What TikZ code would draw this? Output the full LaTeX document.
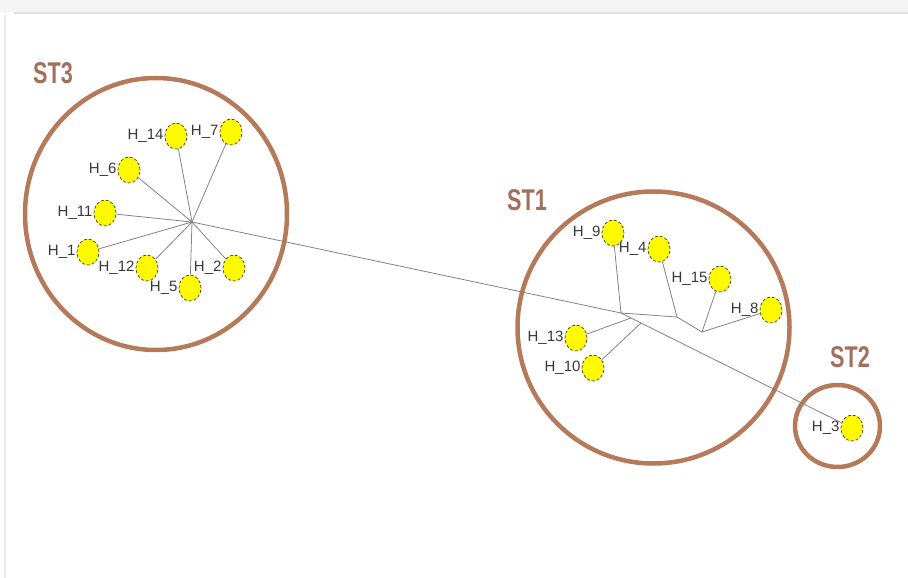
\documentclass[tikz,border=0pt]{standalone}
\usepackage{fontspec}
\setmainfont{Liberation Sans}
\usetikzlibrary{shapes.geometric}
\definecolor{ringc}{RGB}{180,122,90}
\definecolor{stlab}{RGB}{160,112,92}
\definecolor{edgec}{RGB}{130,130,130}
\definecolor{hapfill}{RGB}{255,250,0}
\definecolor{hapline}{RGB}{60,60,20}
\tikzset{
  hap/.style={ellipse, fill=hapfill, draw=hapline, line width=0.7pt, densely dashed,
    minimum width=22pt, minimum height=26pt, inner sep=0pt,
    label={[font=\fontsize{15}{17}\selectfont, text=black!78, inner sep=1pt, solid]left:#1}},
  ring/.style={draw=ringc, line width=4.5pt},
  stlabel/.style={font=\fontsize{30}{32}\selectfont\bfseries, text=stlab, xscale=0.72, inner sep=0pt},
  lnk/.style={draw=edgec, line width=0.8pt}
}
\begin{document}
\begin{tikzpicture}[x=1pt,y=-1pt]
\useasboundingbox (0,0) rectangle (908,578);
% faint frame
\fill[black!4] (0,0) rectangle (908,12);
\draw[black!12, line width=2pt] (14,13) -- (908,13);
\draw[black!8, line width=2pt] (5,15) -- (5,578);
% rings
\draw[ring] (156,214) ellipse [x radius=131, y radius=136];
\draw[ring] (653.5,327.5) circle [radius=136];
\draw[ring] (837.5,426) ellipse [x radius=42.5, y radius=41];
% ST labels
\node[stlabel] (st3) at (53,73) {ST3};
\node[stlabel] (st1) at (527,200) {ST1};
\node[stlabel] (st2) at (850,357) {ST2};
% junctions
\coordinate (hub3) at (192,222);
\coordinate (ja) at (621,313);
\coordinate (jb) at (631,318);
\coordinate (jc) at (641,323);
\coordinate (jd) at (677,317);
\coordinate (je) at (702,332);
% ST3 haplotypes
\node[hap=H\_14] (h14) at (176,136) {};
\node[hap=H\_7] (h7) at (231,132) {};
\node[hap=H\_6] (h6) at (129,170) {};
\node[hap=H\_11] (h11) at (105,213) {};
\node[hap=H\_1] (h1) at (88,252) {};
\node[hap=H\_12] (h12) at (147,268) {};
\node[hap=H\_5] (h5) at (190,288) {};
\node[hap=H\_2] (h2) at (234,268) {};
% ST1 haplotypes
\node[hap=H\_9] (h9) at (613,233) {};
\node[hap=H\_4] (h4) at (659,249) {};
\node[hap=H\_15] (h15) at (720,279) {};
\node[hap=H\_8] (h8) at (771,310) {};
\node[hap=H\_13] (h13) at (576,338) {};
\node[hap=H\_10] (h10) at (593,368) {};
% ST2
\node[hap=H\_3] (h3) at (852,428) {};
% edges
\draw[lnk] (h14) -- (hub3);
\draw[lnk] (h7) -- (hub3);
\draw[lnk] (h6) -- (hub3);
\draw[lnk] (h11) -- (hub3);
\draw[lnk] (h1) -- (hub3);
\draw[lnk] (h12) -- (hub3);
\draw[lnk] (h5) -- (hub3);
\draw[lnk] (h2) -- (hub3);
\draw[lnk] (hub3) -- (ja);
\draw[lnk] (ja) -- (jb) -- (jc) -- (h3);
\draw[lnk] (ja) -- (jd) -- (je);
\draw[lnk] (h9) -- (ja);
\draw[lnk] (h4) -- (jd);
\draw[lnk] (h15) -- (je);
\draw[lnk] (h8) -- (je);
\draw[lnk] (h13) -- (jb);
\draw[lnk] (h10) -- (jc);
\end{tikzpicture}
\end{document}
